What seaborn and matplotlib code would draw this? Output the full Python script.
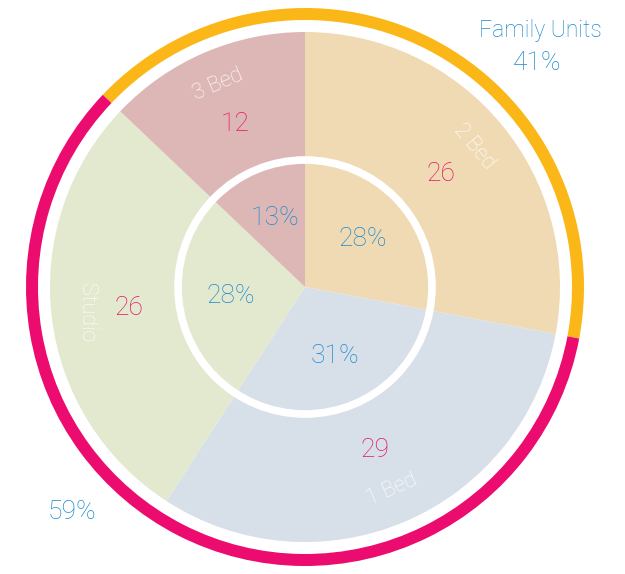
import numpy as np
import matplotlib.pyplot as plt
import seaborn as sns
from matplotlib.patches import Circle

sns.set_theme(style='white')
plt.rcParams['font.family'] = ['Roboto', 'DejaVu Sans']
plt.rcParams['font.weight'] = 'light'

# data
unit_types = ['2 Bed', '1 Bed', 'Studio', '3 Bed']
unit_counts = [26, 29, 26, 12]
unit_pcts = ['28%', '31%', '28%', '13%']
slice_colors = ['#F0DAB4', '#D7DFE9', '#E3E9CF', '#DDB7B6']

group_names = ['Family Units', 'Other']
group_counts = [26 + 12, 26 + 29]
group_pcts = ['41%', '59%']
group_colors = ['#FBB617', '#EC0B6E']

blue = '#1F8ACD'
pink = '#E6156B'

fig = plt.figure(figsize=(6.25, 5.74), dpi=100)
ax = fig.add_axes([0, 0, 1, 1])

cx, cy = 305, 287
R = 255

# main pie
wedges, _ = ax.pie(unit_counts, colors=slice_colors, radius=R, center=(cx, cy),
                   startangle=90, counterclock=False, frame=True,
                   wedgeprops=dict(linewidth=0))

# outer group ring, starts where 3 Bed starts
start = 90 + unit_counts[3] / sum(unit_counts) * 360
ax.pie(group_counts, colors=group_colors, radius=279, center=(cx, cy),
       startangle=start, counterclock=False, frame=True,
       wedgeprops=dict(width=12, linewidth=0))

# white ring in the middle
ax.add_patch(Circle((cx, cy), 127, fill=False, ec='white', lw=5.5, zorder=5))

for w, name, cnt, pct in zip(wedges, unit_types, unit_counts, unit_pcts):
    mid = (w.theta1 + w.theta2) / 2
    a = np.deg2rad(mid)
    ca, sa = np.cos(a), np.sin(a)
    rot = mid - 90 if sa >= 0 else mid + 90
    rot = (rot + 180) % 360 - 180
    if name == 'Studio':
        rot = -90
    ax.text(cx + 220 * ca, cy + 220 * sa, name, color='white', fontsize=15.5,
            rotation=rot, ha='center', va='center',
            rotation_mode='anchor', zorder=6)
    ax.text(cx + 177 * ca, cy + 177 * sa, str(cnt), color=pink, fontsize=19,
            ha='center', va='center', zorder=6)
    ax.text(cx + 75 * ca, cy + 75 * sa, pct, color=blue, fontsize=19,
            ha='center', va='center', zorder=6)

ax.text(540, 574 - 31, group_names[0], color=blue, fontsize=16.5,
        ha='center', va='center')
ax.text(537, 574 - 63, group_pcts[0], color=blue, fontsize=19,
        ha='center', va='center')
ax.text(72, 574 - 512, group_pcts[1], color=blue, fontsize=19,
        ha='center', va='center')

ax.set_xlim(0, 625)
ax.set_ylim(0, 574)
ax.set_aspect('equal')
ax.axis('off')

fig.savefig('out.png', dpi=100)
